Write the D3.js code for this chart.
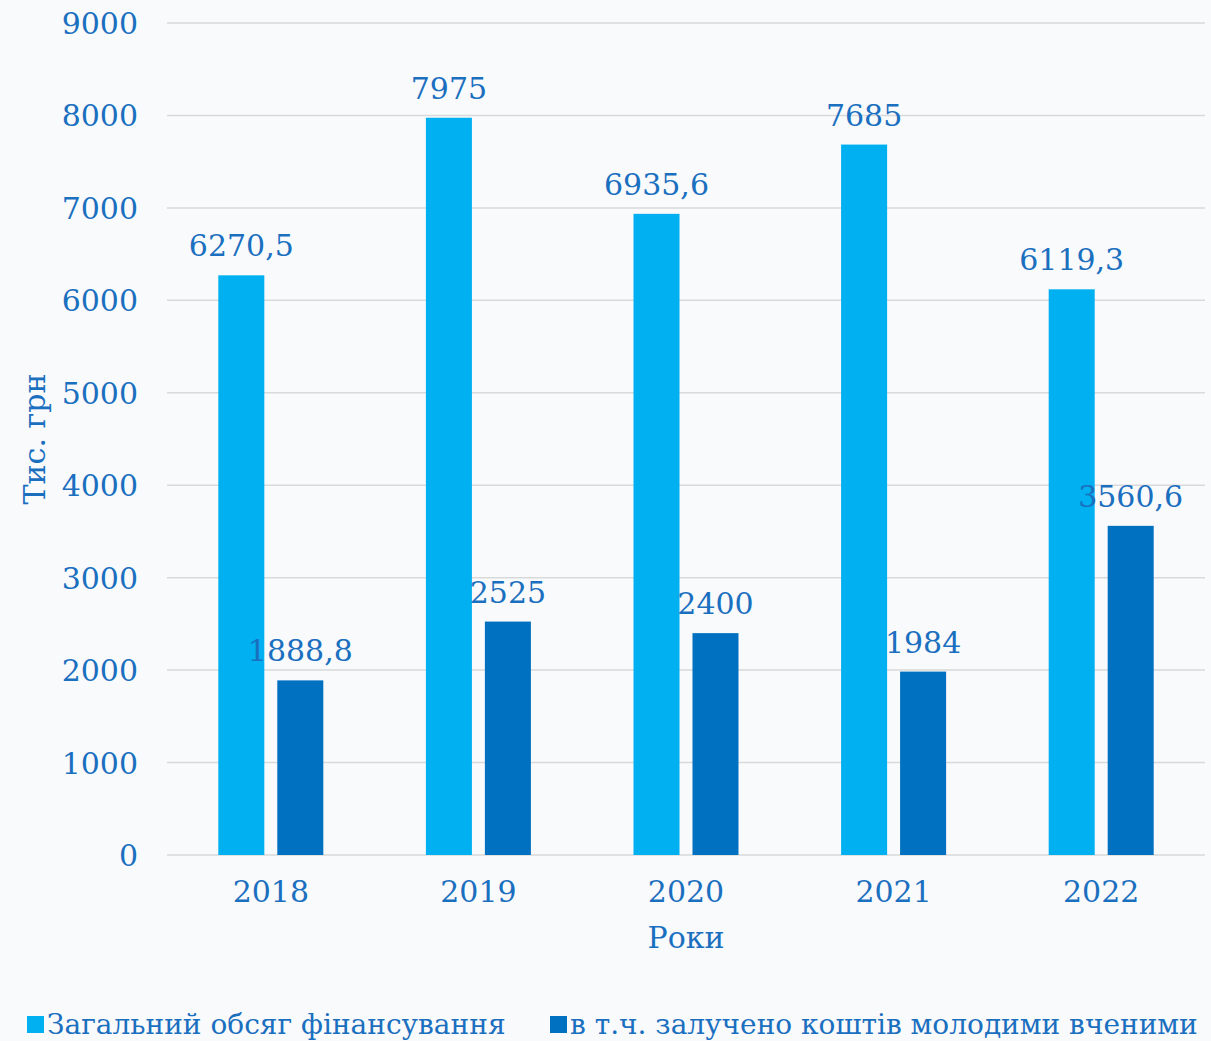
<!DOCTYPE html>
<html>
<head>
<meta charset="utf-8">
<script src="https://cdn.jsdelivr.net/npm/d3@7"></script>
<style>
  html, body { margin: 0; padding: 0; background: #f8fafc; }
  text { font-family: "DejaVu Serif", serif; fill: #1b6fbf; }
</style>
</head>
<body>
<svg id="chart" width="1211" height="1041"></svg>
<script>
const years = ['2018', '2019', '2020', '2021', '2022']
const totalFunding = [6270.5, 7975, 6935.6, 7685, 6119.3]
const youngScientists = [1888.8, 2525, 2400, 1984, 3560.6]
const seriesNames = ['Загальний обсяг фінансування', 'в т.ч. залучено коштів молодими вченими']
const seriesColors = ['#00b0f0', '#0070c0']
const yTicks = [0, 1000, 2000, 3000, 4000, 5000, 6000, 7000, 8000, 9000]

const margin = {top: 23, right: 6, bottom: 186, left: 167}
const width = 1211 - margin.left - margin.right
const height = 1041 - margin.top - margin.bottom

const svg = d3.select('#chart')
const g = svg.append('g')
  .attr('transform', 'translate(' + margin.left + ',' + margin.top + ')')

const x = d3.scaleBand().domain(years).range([0, width]).padding(0)
const y = d3.scaleLinear().domain([0, 9000]).range([height, 0])
// two bars per year, 46px wide with a 13px gap, centred in the band
const x1 = d3.scaleBand().domain([0, 1])
  .range([x.bandwidth() / 2 - 52.5, x.bandwidth() / 2 + 52.5])
  .paddingInner(0.22)

// gridlines
g.append('g').selectAll('line')
  .data(yTicks)
  .join('line')
  .attr('x1', 0).attr('x2', width)
  .attr('y1', d => y(d)).attr('y2', d => y(d))
  .attr('stroke', '#d9d9d9')
  .attr('stroke-width', 1.5)

// y axis labels
const yAxis = g.append('g').call(d3.axisLeft(y).tickValues(yTicks).tickSize(0).tickPadding(29).tickFormat(d3.format('d')))
yAxis.select('.domain').remove()
yAxis.selectAll('text')
  .attr('font-size', 30)
  .attr('font-family', '"DejaVu Serif", serif')
  .attr('fill', '#1b6fbf')
  .attr('dy', '0.35em')

// x axis labels
const xAxis = g.append('g')
  .attr('transform', 'translate(0,' + height + ')')
  .call(d3.axisBottom(x).tickSize(0).tickPadding(26))
xAxis.select('.domain').remove()
xAxis.selectAll('text')
  .attr('font-size', 30)
  .attr('font-family', '"DejaVu Serif", serif')
  .attr('fill', '#1b6fbf')

const series = [totalFunding, youngScientists]
const fmt = v => String(v).replace('.', ',')

series.forEach((vals, si) => {
  const grp = g.append('g')
  grp.selectAll('rect')
    .data(vals)
    .join('rect')
    .attr('x', (d, i) => x(years[i]) + x1(si))
    .attr('width', x1.bandwidth())
    .attr('y', d => y(d))
    .attr('height', d => height - y(d))
    .attr('fill', seriesColors[si])
  grp.selectAll('text')
    .data(vals)
    .join('text')
    .attr('x', (d, i) => x(years[i]) + x1(si) + x1.bandwidth() / 2)
    .attr('y', d => y(d) - 19)
    .attr('text-anchor', 'middle')
    .attr('font-size', 30)
    .text(d => fmt(d))
})

// axis titles
svg.append('text')
  .attr('x', margin.left + width / 2)
  .attr('y', 948)
  .attr('text-anchor', 'middle')
  .attr('font-size', 30)
  .text('Роки')

svg.append('text')
  .attr('transform', 'translate(45,' + (margin.top + height / 2) + ') rotate(-90)')
  .attr('text-anchor', 'middle')
  .attr('font-size', 30)
  .text('Тис. грн')

// legend
const legendX = [27, 550]
const legend = svg.append('g')
seriesNames.forEach((name, i) => {
  legend.append('rect')
    .attr('x', legendX[i]).attr('y', 1016)
    .attr('width', 17).attr('height', 17)
    .attr('fill', seriesColors[i])
  legend.append('text')
    .attr('x', legendX[i] + 20).attr('y', 1034)
    .attr('font-size', 28)
    .text(name)
})
</script>
</body>
</html>
